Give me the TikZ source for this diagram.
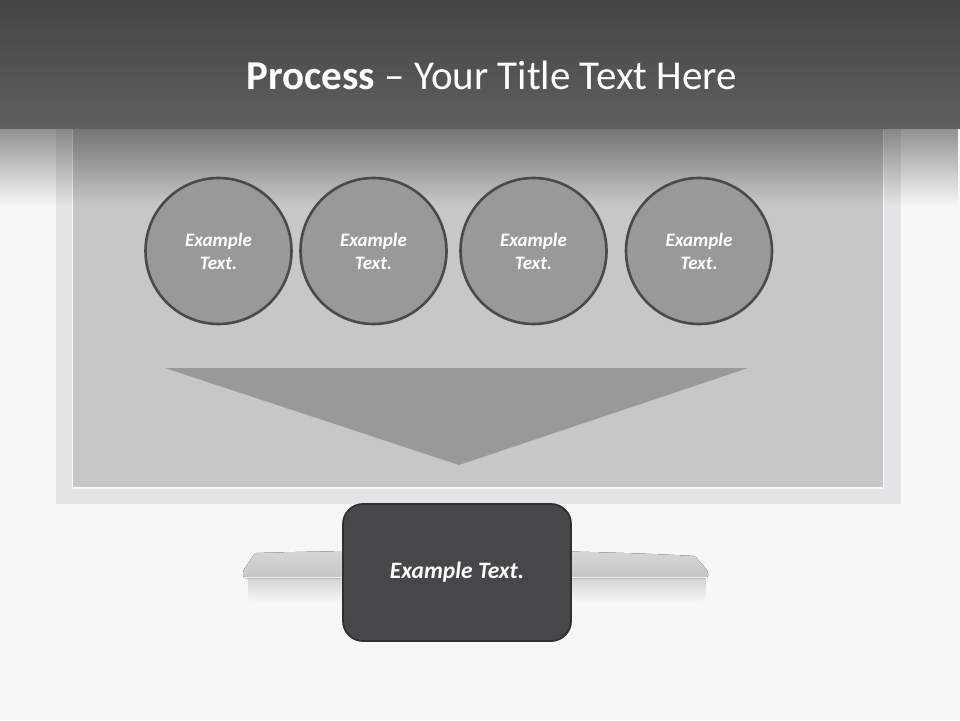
\documentclass[tikz,border=0pt]{standalone}
\usepackage{fontspec}
\setmainfont{Carlito}
\usetikzlibrary{fadings}
\definecolor{bgc}{HTML}{F7F7F7}
\definecolor{hdtop}{HTML}{444445}
\definecolor{hdbot}{HTML}{5F5F60}
\definecolor{framec}{HTML}{E5E5E7}
\definecolor{screenc}{HTML}{C7C7C7}
\definecolor{circfill}{HTML}{999999}
\definecolor{circline}{HTML}{4A4A4A}
\definecolor{boxfill}{HTML}{474749}
\definecolor{boxline}{HTML}{303030}
\definecolor{standc}{HTML}{D0D0D0}
\tikzset{
  stepcirc/.style={circle, minimum size=146pt, inner sep=0pt, fill=circfill, draw=circline, line width=2.6pt,
    text=white, font=\fontsize{19}{23}\selectfont\bfseries\itshape, align=center},
  outbox/.style={rounded corners=20pt, minimum width=228pt, minimum height=137pt, fill=boxfill, draw=boxline, line width=1.8pt,
    text=white, font=\fontsize{23.5}{26}\selectfont\bfseries\itshape},
}
\begin{document}
\begin{tikzpicture}[x=1pt,y=-1pt]
\useasboundingbox (0,0) rectangle (960,720);
\fill[bgc] (0,0) rectangle (960,720);
% monitor frame
\fill[framec] (56,100) rectangle (901,504);
\fill[white!80!framec] (72,100) rectangle (884,489);
\fill[screenc] (73,100) rectangle (883,487);
% stand shadow
\fill[black, path fading=south, fill opacity=0.16, rounded corners=6pt] (248,574) rectangle (706,602);
% stand
\fill[top color=standc!85!white, bottom color=standc!95!black, rounded corners=2pt] (255,553) .. controls (400,549) and (560,549) .. (695,556) -- (708,571) -- (708,578) -- (243,578) -- (243,571) -- cycle;
\draw[white!70!standc, line width=0.8pt] (244,577.5) -- (707,577.5);
% fade under header
\fill[black, path fading=south, fill opacity=0.42] (0,127) rectangle (960,205);
% header
\shade[top color=hdtop, bottom color=hdbot] (0,0) rectangle (960,128);
\node (title) at (492,75) {\fontsize{41}{44}\selectfont\color{white}\textbf{Process} – Your Title Text Here};
% circles
\node[stepcirc] (c1) at (218.5,251) {Example\\Text.};
\node[stepcirc] (c2) at (373.5,251) {Example\\Text.};
\node[stepcirc] (c3) at (533.5,251) {Example\\Text.};
\node[stepcirc] (c4) at (699,251) {Example\\Text.};
% triangle
\fill[circfill] (165,368) -- (748,368) -- (459,465) -- cycle;
% output box
\node[outbox] (out) at (457,572.5) {Example Text.};
\end{tikzpicture}
\end{document}
